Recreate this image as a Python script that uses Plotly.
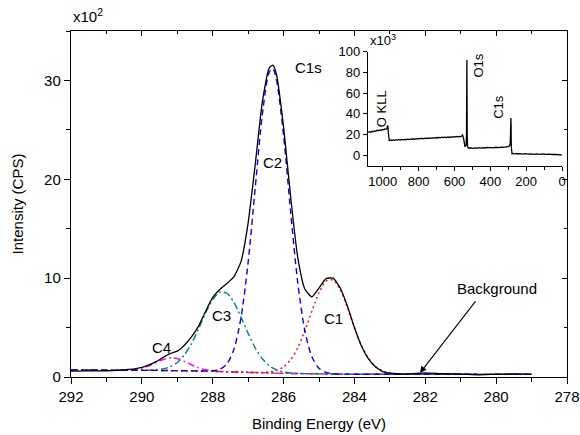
import plotly.graph_objects as go

# ---------------- C1s high-resolution data (x10^2 CPS) ----------------
be = [292.0, 291.5, 291.0, 290.6, 290.4, 290.2, 290.0, 289.8, 289.6, 289.4,
      289.2, 289.0, 288.8, 288.6, 288.4, 288.2, 288.0, 287.8, 287.6, 287.4,
      287.2, 287.0, 286.8, 286.6, 286.4, 286.3, 286.2, 286.0, 285.8, 285.6,
      285.4, 285.2, 285.0, 284.8, 284.6, 284.4, 284.2, 284.0, 283.8, 283.6,
      283.4, 283.2, 283.0, 282.5, 282.0, 281.5, 281.0, 280.5, 280.0, 279.5, 279.0]

envelope = [0.60, 0.62, 0.63, 0.70, 0.76, 0.82, 0.97, 1.22, 1.55, 1.98,
            2.36, 2.62, 3.22, 4.05, 5.15, 6.65, 8.05, 8.85, 9.45, 10.15,
            11.7, 15.6, 21.5, 27.8, 31.3, 31.55, 30.6, 25.3, 18.2, 12.1,
            8.9, 8.1, 9.0, 9.95, 10.0, 9.0, 7.2, 5.0, 3.1, 1.8,
            1.0, 0.55, 0.38, 0.30, 0.42, 0.33, 0.30, 0.22, 0.28, 0.31, 0.29]

background = [0.72, 0.71, 0.70, 0.69, 0.69, 0.68, 0.68, 0.67, 0.67, 0.66,
              0.65, 0.64, 0.63, 0.62, 0.61, 0.59, 0.57, 0.55, 0.53, 0.51,
              0.49, 0.47, 0.45, 0.43, 0.41, 0.40, 0.39, 0.37, 0.36, 0.35,
              0.34, 0.33, 0.32, 0.31, 0.30, 0.29, 0.29, 0.28, 0.28, 0.28,
              0.28, 0.28, 0.28, 0.28, 0.28, 0.28, 0.28, 0.27, 0.27, 0.27, 0.27]

c4 = [0.72, 0.71, 0.70, 0.70, 0.72, 0.77, 0.90, 1.13, 1.46, 1.77,
      1.94, 1.87, 1.59, 1.24, 0.93, 0.73, 0.62, 0.56, 0.53, 0.51,
      0.49, 0.47, 0.45, 0.43, 0.41, 0.40, 0.39, 0.37, 0.36, 0.35,
      0.34, 0.33, 0.32, 0.31, 0.30, 0.29, 0.29, 0.28, 0.28, 0.28,
      0.28, 0.28, 0.28, 0.28, 0.28, 0.28, 0.28, 0.27, 0.27, 0.27, 0.27]

c3 = [0.72, 0.71, 0.70, 0.69, 0.69, 0.68, 0.69, 0.69, 0.73, 0.82,
      1.04, 1.47, 2.23, 3.38, 4.87, 6.47, 7.83, 8.58, 8.47, 7.54,
      6.05, 4.41, 2.95, 1.85, 1.13, 0.89, 0.72, 0.50, 0.41, 0.36,
      0.34, 0.33, 0.32, 0.31, 0.30, 0.29, 0.29, 0.28, 0.28, 0.28,
      0.28, 0.28, 0.28, 0.28, 0.28, 0.28, 0.28, 0.27, 0.27, 0.27, 0.27]

c2 = [0.72, 0.71, 0.70, 0.69, 0.69, 0.68, 0.68, 0.67, 0.67, 0.66,
      0.65, 0.64, 0.63, 0.62, 0.61, 0.60, 0.63, 0.78, 1.33, 2.82,
      6.05, 11.62, 19.13, 26.54, 30.87, 31.18, 30.05, 24.44, 16.66, 9.57,
      4.69, 2.04, 0.88, 0.46, 0.34, 0.29, 0.29, 0.28, 0.28, 0.28,
      0.28, 0.28, 0.28, 0.28, 0.28, 0.28, 0.28, 0.27, 0.27, 0.27, 0.27]

c1 = [0.72, 0.71, 0.70, 0.69, 0.69, 0.68, 0.68, 0.67, 0.67, 0.66,
      0.65, 0.64, 0.63, 0.62, 0.61, 0.59, 0.57, 0.55, 0.53, 0.51,
      0.49, 0.47, 0.46, 0.46, 0.51, 0.57, 0.67, 1.03, 1.75, 2.96,
      4.67, 6.66, 8.52, 9.70, 9.81, 8.80, 7.03, 4.99, 3.20, 1.88,
      1.05, 0.61, 0.40, 0.29, 0.28, 0.28, 0.28, 0.27, 0.27, 0.27, 0.27]

# ---------------- Survey spectrum (x10^3 CPS) ----------------
survey_be = [1082, 1075, 1068, 1060, 1052, 1045, 1038, 1030, 1022, 1015,
             1008, 1000, 995, 990, 985, 980, 977, 975, 973, 971,
             969, 967, 964, 958, 950, 942, 934, 926, 918, 910,
             902, 894, 886, 878, 870, 862, 854, 846, 838, 830,
             822, 814, 806, 798, 790, 782, 774, 766, 758, 750,
             742, 734, 726, 718, 710, 702, 694, 686, 678, 670,
             662, 654, 646, 638, 630, 622, 614, 606, 598, 590,
             582, 574, 566, 560, 555, 550, 546, 542, 538, 535,
             533, 532, 531, 530, 529, 527, 524, 518, 510, 502,
             494, 486, 478, 470, 462, 454, 446, 438, 430, 422,
             414, 406, 398, 390, 382, 374, 366, 358, 350, 342,
             334, 326, 318, 310, 302, 296, 292, 289, 287, 285,
             284, 283, 282, 279, 272, 264, 256, 248, 240, 232,
             224, 216, 208, 200, 192, 184, 176, 168, 160, 152,
             144, 136, 128, 120, 112, 104, 96, 88, 80, 72,
             64, 56, 48, 40, 32, 24, 16, 8, 2]
survey_cps = [22.0, 22.8, 22.3, 23.2, 22.9, 23.6, 23.3, 24.1, 23.8, 24.5,
              24.2, 25.0, 24.6, 25.4, 25.1, 26.0, 25.6, 27.2, 28.8, 27.5,
              22.0, 15.5, 14.2, 14.8, 14.3, 14.9, 14.4, 15.0, 14.6, 15.2,
              14.7, 15.3, 14.9, 15.4, 15.0, 15.6, 15.1, 15.7, 15.3, 15.9,
              15.4, 16.0, 15.6, 16.2, 15.8, 16.4, 15.9, 16.5, 16.1, 16.7,
              16.2, 16.8, 16.4, 17.0, 16.5, 17.1, 16.7, 17.3, 16.8, 17.4,
              17.0, 17.5, 17.1, 17.7, 17.2, 17.8, 17.4, 17.9, 17.5, 18.1,
              17.7, 18.2, 17.9, 18.5, 19.5, 17.0, 10.5, 8.6, 8.9, 9.5,
              20.0, 60.0, 92.0, 60.0, 20.0, 8.5, 7.3, 6.8, 7.2, 6.7,
              7.1, 6.8, 7.2, 6.9, 7.3, 6.9, 7.4, 7.0, 7.4, 7.1,
              7.5, 7.1, 7.6, 7.2, 7.6, 7.3, 7.7, 7.4, 7.8, 7.5,
              7.9, 7.6, 8.0, 7.8, 8.2, 8.5, 9.5, 12.0, 25.0, 36.0,
              25.0, 8.0, 2.5, 1.4, 1.8, 1.3, 1.7, 1.2, 1.6, 1.2,
              1.5, 1.1, 1.5, 1.1, 1.4, 1.0, 1.4, 1.0, 1.3, 0.9,
              1.3, 0.9, 1.2, 0.8, 1.2, 0.8, 1.1, 0.8, 1.1, 0.7,
              1.0, 0.7, 1.0, 0.6, 0.9, 0.6, 0.8, 0.5, 0.4]

FONT = "Liberation Sans, Arial, sans-serif"

fig = go.Figure()

comp_styles = [
    (background, "#808000", "7px,3px,2px,3px,2px,3px"),
    (c4, "#FF00FF", "7px,3px,2px,3px"),
    (c3, "#008080", "7px,3px,2px,3px"),
    (c1, "#FF0000", "2px,3px"),
    (c2, "#0000FF", "6px,4px"),
]
for ys, col, dash in comp_styles:
    fig.add_trace(go.Scatter(x=be, y=ys, mode="lines",
                             line=dict(color=col, width=1.4, dash=dash, shape="spline", smoothing=0.8),
                             showlegend=False, hoverinfo="skip"))

fig.add_trace(go.Scatter(x=be, y=envelope, mode="lines",
                         line=dict(color="black", width=1.3, shape="spline", smoothing=0.5),
                         showlegend=False))

# invisible trace for mirror axes
fig.add_trace(go.Scatter(x=[be[0]], y=[envelope[0]], xaxis="x2", yaxis="y2", mode="markers",
                         marker=dict(opacity=0), showlegend=False, hoverinfo="skip"))

# survey inset
fig.add_trace(go.Scatter(x=survey_be, y=survey_cps, xaxis="x3", yaxis="y3", mode="lines",
                         line=dict(color="black", width=1.3), showlegend=False))

axis_common = dict(showgrid=False, zeroline=False, showline=True, linecolor="black",
                   linewidth=1.4, tickcolor="black", tickwidth=1.3, automargin=False)

fig.update_layout(
    width=580, height=435,
    margin=dict(l=71, r=13, t=31, b=58, autoexpand=False),
    paper_bgcolor="white", plot_bgcolor="white",
    font=dict(family=FONT, size=15, color="black"),
    xaxis=dict(**axis_common, range=[292, 278], autorange=False, dtick=2, tick0=0,
               ticks="outside", ticklen=6,
               minor=dict(dtick=1, ticks="outside", ticklen=4, tickcolor="black", tickwidth=1.2),
               tickfont=dict(size=15),
               title=dict(text="Binding Energy (eV)", font=dict(size=15), standoff=14),
               anchor="y", domain=[0, 1]),
    yaxis=dict(**axis_common, range=[0, 35], autorange=False, dtick=10, tick0=0,
               ticks="outside", ticklen=6,
               minor=dict(dtick=5, ticks="outside", ticklen=4, tickcolor="black", tickwidth=1.2),
               tickfont=dict(size=15),
               title=dict(text="Intensity (CPS)", font=dict(size=15), standoff=16),
               anchor="x", domain=[0, 1]),
    xaxis2=dict(**axis_common, range=[292, 278], autorange=False, overlaying="x", side="top",
                anchor="y", dtick=2, tick0=0, ticks="inside", ticklen=5, showticklabels=False,
                minor=dict(dtick=1, ticks="inside", ticklen=3, tickcolor="black", tickwidth=1.2)),
    yaxis2=dict(**axis_common, range=[0, 35], autorange=False, overlaying="y", side="right",
                anchor="x", dtick=10, tick0=0, ticks="inside", ticklen=5, showticklabels=False,
                minor=dict(dtick=5, ticks="inside", ticklen=3, tickcolor="black", tickwidth=1.2)),
    xaxis3=dict(**axis_common, domain=[0.599, 0.99], anchor="y3", range=[1082, 0], autorange=False,
                dtick=200, tick0=0, ticks="outside", ticklen=4,
                minor=dict(dtick=100, ticks="outside", ticklen=3, tickcolor="black", tickwidth=1.1),
                tickfont=dict(size=13)),
    yaxis3=dict(**axis_common, domain=[0.611, 0.94], anchor="x3", range=[-10, 100], autorange=False,
                dtick=20, tick0=0, ticks="outside", ticklen=4, tickfont=dict(size=13)),
)

ann = []
def txt(x, y, s, xref="x", yref="y", size=15, angle=0, xanchor="center", yanchor="middle"):
    ann.append(dict(x=x, y=y, xref=xref, yref=yref, text=s, showarrow=False,
                    font=dict(size=size, family=FONT, color="black"), textangle=angle,
                    xanchor=xanchor, yanchor=yanchor))

txt(285.31, 31.3, "C1s")
txt(286.3, 21.7, "C2")
txt(287.75, 6.2, "C3")
txt(284.6, 5.9, "C1")
txt(289.45, 3.0, "C4")
txt(279.98, 9.0, "Background")
txt(0.0, 1.045, "x10<sup>2</sup>", xref="paper", yref="paper", xanchor="left")
txt(0.598, 0.975, "x10<sup>3</sup>", xref="paper", yref="paper", size=13, xanchor="left")
txt(1007, 45, "O KLL", xref="x3", yref="y3", size=13, angle=-90)
txt(467, 87, "O1s", xref="x3", yref="y3", size=13, angle=-90)
txt(356, 47, "C1s", xref="x3", yref="y3", size=13, angle=-90)

ann.append(dict(x=282.15, y=0.4, xref="x", yref="y", ax=280.55, ay=7.8, axref="x", ayref="y",
                text="", showarrow=True, arrowhead=2, arrowsize=1.2, arrowwidth=1.1,
                arrowcolor="black"))

fig.update_layout(annotations=ann)

fig.write_html("out.html")
